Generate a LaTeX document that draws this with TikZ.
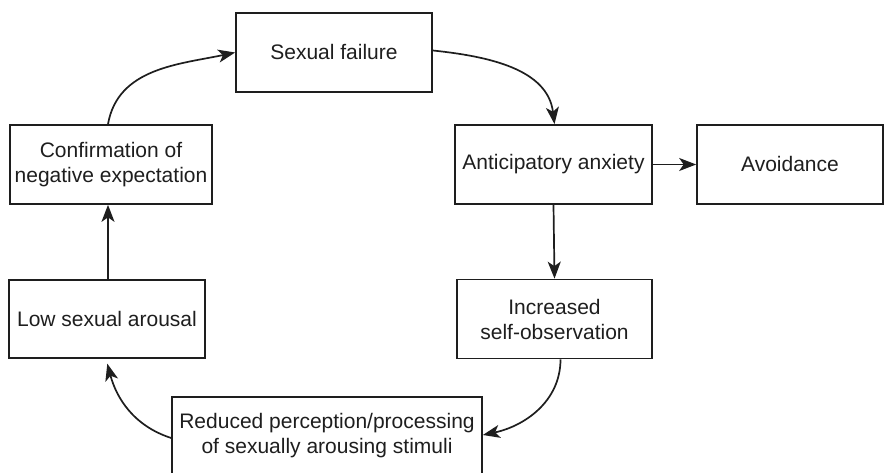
\documentclass[tikz,border=0pt]{standalone}
\usepackage{fontspec}
\setmainfont{Liberation Sans}
\usetikzlibrary{arrows.meta}
\definecolor{ink}{HTML}{1E1E1E}
\tikzset{
  box/.style={draw=ink, line width=1.7pt, rectangle, align=center,
    text=ink, font=\fontsize{21}{25}\selectfont,
    minimum height=79pt, inner sep=2pt},
  flow/.style={draw=ink, line width=1.7pt,
    -{Stealth[length=17pt,width=13pt,inset=4.5pt]}}
}
\begin{document}
\begin{tikzpicture}[x=1pt,y=1pt]
  \useasboundingbox (0,0) rectangle (886,473);
  % boxes of the cycle
  \node[box, minimum width=196pt] (sf)   at (334,420.5) {Sexual failure};
  \node[box, minimum width=197pt] (aa)   at (553.5,308.5) {Anticipatory anxiety};
  \node[box, minimum width=186pt] (av)   at (790,308.5) {Avoidance};
  \node[box, minimum width=195pt] (inc)  at (554.5,154) {Increased\\self-observation};
  \node[box, minimum width=310pt, minimum height=78pt] (red) at (327,37)
    {Reduced perception/processing\\of sexually arousing stimuli};
  \node[box, minimum width=196pt, minimum height=78pt] (low) at (107,154) {Low sexual arousal};
  \node[box, minimum width=202pt] (conf) at (111,308.5) {Confirmation of\\negative expectation};
  % connectors
  \draw[flow] ([xshift=-3pt]conf.north) to[out=80, in=192] (sf.west);
  \draw[flow] ([yshift=2pt]sf.east) to[out=-6, in=97] ([xshift=1pt]aa.north);
  \draw[flow] (aa.east) -- (av.west);
  \draw[flow] (aa.south) -- (inc.north);
  \draw[flow] ([xshift=6pt]inc.south) to[out=-90, in=12] ([yshift=1pt]red.east);
  \draw[flow, shorten >=5pt] ([yshift=-2pt]red.west) to[out=162, in=-75] ([xshift=-1pt]low.south);
  \draw[flow] ([xshift=1pt]low.north) -- ([xshift=-3pt]conf.south);
\end{tikzpicture}
\end{document}
